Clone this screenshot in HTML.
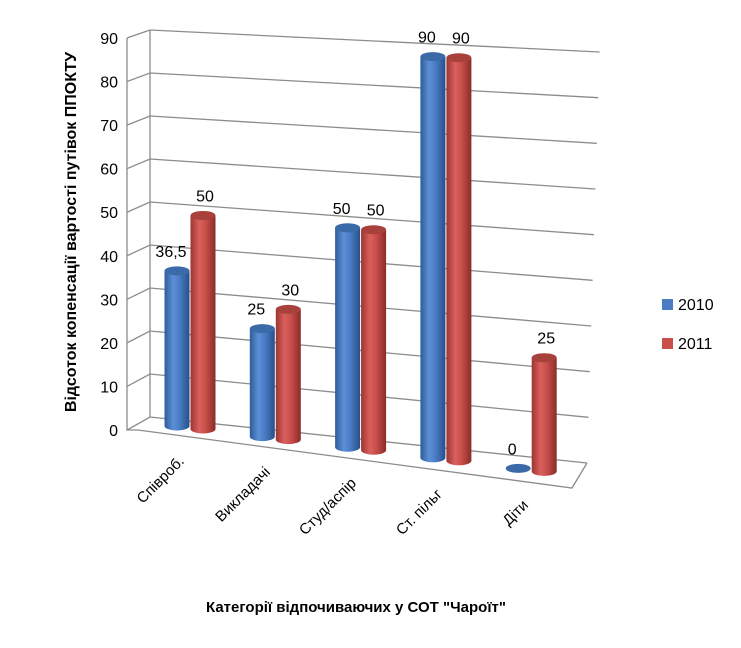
<!DOCTYPE html>
<html><head><meta charset="utf-8">
<style>
html,body{margin:0;padding:0;background:#fff;}
svg{display:block;font-family:"Liberation Sans",sans-serif;}
</style></head>
<body>
<svg id="chart" width="741" height="648" viewBox="0 0 741 648" xmlns="http://www.w3.org/2000/svg">
<defs>
<linearGradient id="gb" x1="0" x2="1" y1="0" y2="0">
<stop offset="0" stop-color="#2f5d9a"/><stop offset="0.35" stop-color="#5b8fd6"/><stop offset="0.6" stop-color="#4a7cc4"/><stop offset="1" stop-color="#27508a"/></linearGradient>
<linearGradient id="gr" x1="0" x2="1" y1="0" y2="0">
<stop offset="0" stop-color="#9c3532"/><stop offset="0.35" stop-color="#d9605c"/><stop offset="0.6" stop-color="#c94f4b"/><stop offset="1" stop-color="#8a2c29"/></linearGradient>
</defs>
<g id="grid"></g>
<g id="bars"></g>
<g id="labels"></g>
<text transform="translate(76,232) rotate(-90)" text-anchor="middle" font-size="16" font-weight="bold">Відсоток копенсації вартості путівок ППОКТУ</text>
<text x="356" y="612" text-anchor="middle" font-size="15" font-weight="bold">Категорії відпочиваючих у СОТ  "Чароїт"</text>
<rect x="662" y="299" width="11" height="11" fill="#4a7cc4"/>
<text x="678" y="310" font-size="16">2010</text>
<rect x="662" y="338" width="11" height="11" fill="#c94f4b"/>
<text x="678" y="349" font-size="16">2011</text>
</svg>
<script>
const categories = ["Співроб.", "Викладачі", "Студ/аспір", "Ст. пільг", "Діти"];
const values2010 = [36.5, 25, 50, 90, 0];
const values2011 = [50, 30, 50, 90, 25];
const labels2010 = ["36,5", "25", "50", "90", "0"];
const labels2011 = ["50", "30", "50", "90", "25"];
const yTicks = [0, 10, 20, 30, 40, 50, 60, 70, 80, 90];

const NS = "http://www.w3.org/2000/svg";
function mk(tag, attrs, parent){const e=document.createElementNS(NS,tag);for(const k in attrs)e.setAttribute(k,attrs[k]);parent.appendChild(e);return e;}
const grid=document.getElementById('grid'), bars=document.getElementById('bars'), labels=document.getElementById('labels');
const yMax=90;
// back wall
function backLeftY(v){return 417 - v/yMax*387;}
function backRightY(v){return 463 - v/yMax*411;}
function frontLeftY(v){return 430 - v/yMax*392;}
const gs={stroke:'#8c8c8c','stroke-width':1.3,fill:'none'};
yTicks.forEach(v=>{
  const p=mk('polyline',Object.assign({points:`127,${frontLeftY(v)} 150,${backLeftY(v)} ${587+v*0.14},${backRightY(v)}`},gs),grid);
  
  
  const t=mk('text',{x:118,y:frontLeftY(v)+6,'text-anchor':'end','font-size':16},grid);
  
  
  t.textContent=v;
});
const ax=mk('polyline',Object.assign({points:`127,${frontLeftY(yMax)} 127,${frontLeftY(0)} 138,430 572,488 587,463`},gs),grid);


mk('line',Object.assign({x1:150,y1:backLeftY(0),x2:150,y2:backLeftY(yMax)},gs),grid);

function cx(i,s){return 177+i*85.3+s*26;}
function baseY(i,s){return 426+i*10.6+s*3;}
function k(x){return 4.25+(x-177)/370*0.3;}
function cyl(i,s,v,lab){
  const x=cx(i,s), b=baseY(i,s), r=12.5, ry=4.5, h=v*k(x), t=b-h;
  const fill=s?'url(#gr)':'url(#gb)', top=s?'#a8403c':'#3a6aa8';
  const g=mk('g',{},bars);
  
  
  if(h>0.5){
    mk('path',{d:`M${x-r},${t} L${x-r},${b} A${r},${ry} 0 0 0 ${x+r},${b} L${x+r},${t} Z`,fill:fill},g);
  }
  mk('ellipse',{cx:x,cy:t,rx:r,ry:ry,fill:top},g);
  const tx=mk('text',{x:x+(s?2:-6),y:t-14,'text-anchor':'middle','font-size':16},labels);
  
  
  tx.textContent=lab;
}
categories.forEach((c,i)=>{
  cyl(i,0,values2010[i],labels2010[i]);
  cyl(i,1,values2011[i],labels2011[i]);
  const ex=185+i*86, ey=462+i*11;
  const t=mk('text',{x:ex,y:ey,'text-anchor':'end','font-size':15,transform:`rotate(-45 ${ex} ${ey})`},labels);
  
  
  t.textContent=c;
});
</script>
</body></html>
